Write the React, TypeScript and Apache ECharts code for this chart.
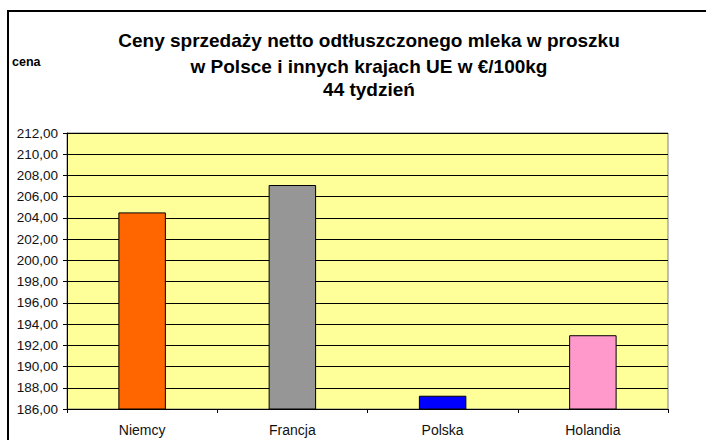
import React, { useEffect, useRef } from "react";
import * as echarts from "echarts";

const categories = ["Niemcy", "Francja", "Polska", "Holandia"];
const prices = [204.52, 207.1, 187.25, 192.95];
const barColors = ["#FF6600", "#969696", "#0000FF", "#FF99CC"];
const titleLines = [
  "Ceny sprzedaży netto odtłuszczonego mleka w proszku",
  "w Polsce i innych krajach UE w €/100kg",
  "44 tydzień",
];
const yMin = 186;
const yMax = 212;
const yStep = 2;

export default function App() {
  const ref = useRef<HTMLDivElement>(null);
  useEffect(() => {
    if (!ref.current) return;
    const chart = echarts.init(ref.current, undefined, { renderer: "svg" });
    const font = "'Liberation Sans', Arial, sans-serif";
    chart.setOption({
      animation: false,
      backgroundColor: "#ffffff",
      graphic: [
        {
          type: "rect",
          shape: { x: 8, y: 11, width: 760, height: 480 },
          style: { fill: "none", stroke: "#000", lineWidth: 2 },
          z: 0,
        },
        {
          type: "text",
          x: 369,
          y: 40,
          style: { text: titleLines[0], font: `bold 19px ${font}`, fill: "#000", align: "center", verticalAlign: "middle" },
        },
        {
          type: "text",
          x: 369,
          y: 66,
          style: { text: titleLines[1], font: `bold 19px ${font}`, fill: "#000", align: "center", verticalAlign: "middle" },
        },
        {
          type: "text",
          x: 369,
          y: 89,
          style: { text: titleLines[2], font: `bold 19px ${font}`, fill: "#000", align: "center", verticalAlign: "middle" },
        },
        {
          type: "text",
          x: 12,
          y: 62,
          style: { text: "cena", font: `bold 12.5px ${font}`, fill: "#000", align: "left", verticalAlign: "middle" },
        },
      ],
      grid: {
        left: 67,
        right: 38,
        top: 133,
        bottom: 31,
        show: true,
        backgroundColor: "#FFFF99",
        borderColor: "#808080",
        borderWidth: 1,
      },
      xAxis: {
        type: "category",
        data: categories,
        axisLine: { show: true, lineStyle: { color: "#000", width: 1 } },
        axisTick: { show: true, alignWithLabel: false, length: 4, lineStyle: { color: "#000" } },
        axisLabel: { color: "#111", fontFamily: font, fontSize: 14, margin: 14 },
        splitLine: { show: false },
      },
      yAxis: {
        type: "value",
        min: yMin,
        max: yMax,
        interval: yStep,
        axisLine: { show: true, lineStyle: { color: "#000", width: 1 } },
        axisTick: { show: true, length: 4, lineStyle: { color: "#000" } },
        axisLabel: {
          color: "#111",
          fontFamily: font,
          fontSize: 13.5,
          margin: 9,
          formatter: (v: number) => v.toFixed(2).replace(".", ","),
        },
        splitLine: { show: true, lineStyle: { color: "#000", width: 1 } },
      },
      series: [
        {
          type: "bar",
          data: prices.map((v, i) => ({
            value: v,
            itemStyle: { color: barColors[i], borderColor: "#000", borderWidth: 1 },
          })),
          barWidth: "31.6%",
        },
      ],
    });
    return () => chart.dispose();
  }, []);
  return (
    <div
      ref={ref}
      style={{ position: "absolute", left: 0, top: 0, width: 706, height: 440 }}
    />
  );
}
